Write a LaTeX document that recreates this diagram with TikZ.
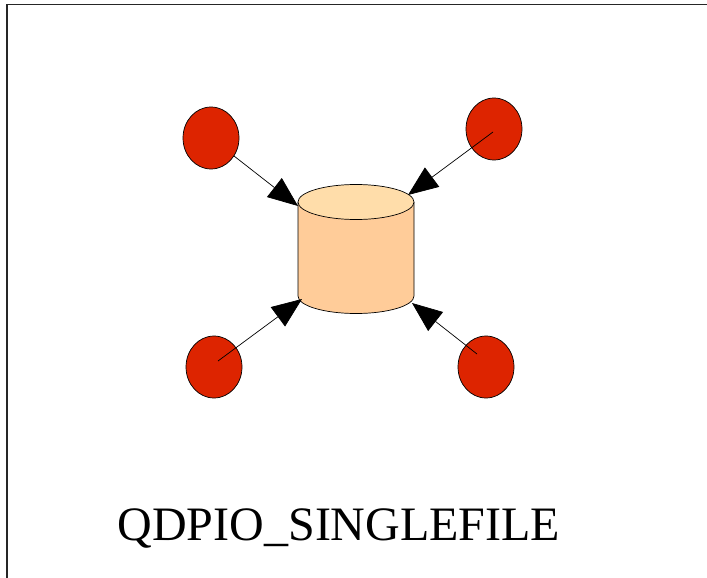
\documentclass[tikz,border=0pt]{standalone}
\usepackage{fontspec}
\setmainfont{Liberation Serif}
\usetikzlibrary{arrows.meta,shapes.geometric,calc}
\definecolor{dotred}{RGB}{221,36,0}
\definecolor{drumside}{RGB}{255,204,153}
\definecolor{drumtop}{RGB}{255,221,170}
\begin{document}
\begin{tikzpicture}[x=1pt,y=-1pt,
  dot/.style={ellipse,draw=black,line width=0.7pt,fill=dotred,minimum width=56pt,minimum height=62pt,inner sep=0pt},
  link/.style={draw=black,line width=0.7pt,-{Triangle[length=30pt,width=24pt]}}]
\useasboundingbox (0,0) rectangle (707,578);
% frame edges
\draw[line width=1.5pt,draw=black!85] (7,578) -- (7,4.5) -- (707,4.5);
% drum in the middle
\fill[drumside] (298,202) -- (298,296) arc[start angle=180,end angle=0,x radius=58,y radius=17.5] -- (414,202) -- cycle;
\draw[line width=0.7pt] (298,202) -- (298,296) arc[start angle=180,end angle=0,x radius=58,y radius=17.5] -- (414,202);
\draw[line width=0.7pt,fill=drumtop] (356,202) ellipse[x radius=58,y radius=17.5];
\coordinate (dtl) at (298,206);
\coordinate (dtr) at (408,195);
\coordinate (dbl) at (302,299);
\coordinate (dbr) at (412,303);
% four dots
\node[dot] (tl) at (211,138) {};
\node[dot] (tr) at (494,129) {};
\node[dot] (bl) at (214,367) {};
\node[dot] (br) at (486,367) {};
% connectors
\draw[link] (tl) -- (dtl);
\draw[link] ($(tr.center)+(-1,3)$) -- (dtr);
\draw[link] ($(bl.center)+(4,-6)$) -- (dbl);
\draw[link] ($(br.center)+(-9,-13)$) -- (dbr);
\node[font=\fontsize{48}{56}\selectfont,anchor=base] (label) at (339,540) {QDPIO\_SINGLEFILE};
\end{tikzpicture}
\end{document}
